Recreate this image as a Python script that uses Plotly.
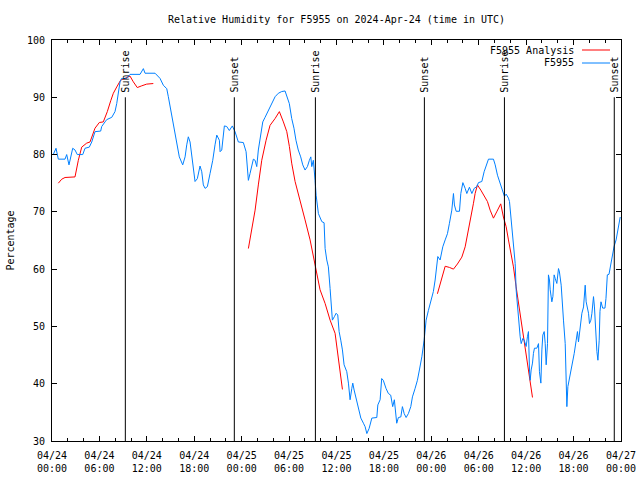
import pandas as pd
import plotly.graph_objects as go

BASE = pd.Timestamp("2024-04-24 00:00")

# Observed F5955 (hours since 2024-04-24 00:00 UTC, percent)
obs_hours = [0.16, 0.51, 0.80, 1.65, 1.86, 2.15, 2.62, 2.91, 3.20, 3.89, 4.18, 4.72, 5.03, 5.44, 6.16, 6.29,
             6.71, 6.92, 7.56, 7.97, 8.19, 8.39, 8.61, 8.82, 9.46, 9.87, 11.14, 11.56, 11.77, 13.04, 13.25,
             13.67, 14.09, 14.52, 14.72, 15.03, 15.35, 15.57, 15.86, 16.11, 16.54, 16.84, 17.05, 17.25, 17.47,
             17.81, 18.10, 18.39, 18.73, 18.95, 19.15, 19.37, 19.66, 20.00, 20.34, 20.63, 20.85, 21.18, 21.27,
             21.48, 21.61, 21.81, 22.11, 22.44, 22.82, 23.16, 23.58, 24.21, 24.56, 24.72, 24.85, 25.06, 25.28,
             25.48, 25.70, 25.91, 26.11, 26.42, 26.67, 26.96, 27.38, 27.81, 28.23, 28.64, 29.07, 29.49, 29.78,
             30.03, 30.33, 30.62, 30.87, 31.16, 31.47, 31.73, 32.02, 32.32, 32.57, 32.75, 32.87, 33.07, 33.29,
             33.42, 33.71, 34.14, 34.43, 34.56, 34.77, 34.97, 35.19, 35.32, 35.48, 35.73, 35.95, 36.16, 36.33,
             36.54, 36.75, 36.96, 37.30, 37.51, 37.72, 37.94, 38.06, 38.23, 38.48, 38.77, 39.08, 39.41, 39.62,
             39.84, 40.13, 40.47, 41.10, 41.23, 41.52, 41.72, 41.92, 42.26, 42.56, 42.86, 43.11, 43.32, 43.49,
             43.62, 43.83, 44.14, 44.34, 44.56, 44.81, 45.10, 45.40, 45.61, 45.95, 46.24, 46.49, 46.80, 47.09,
             47.34, 47.63, 47.94, 48.26, 48.48, 48.69, 48.82, 49.11, 49.45, 49.75, 50.04, 50.29, 50.59, 50.80,
             50.92, 51.14, 51.56, 51.73, 51.99, 52.28, 52.49, 52.82, 53.13, 53.42, 53.76, 53.96, 54.39, 54.68,
             55.02, 55.23, 55.86, 56.08, 56.37, 56.71, 57.05, 57.25, 57.47, 57.76, 57.89, 58.06, 58.27, 58.48,
             58.61, 58.73, 58.90, 59.03, 59.24, 59.37, 59.58, 59.75, 60.00, 60.16, 60.29, 60.42, 60.51, 60.63,
             60.80, 60.92, 61.05, 61.35, 61.56, 61.68, 61.86, 61.99, 62.11, 62.28, 62.41, 62.53, 62.70, 62.82,
             62.95, 63.04, 63.25, 63.38, 63.54, 63.67, 63.88, 64.09, 64.21, 64.43, 64.59, 64.72, 64.94, 65.06,
             65.15, 65.28, 65.44, 65.66, 65.86, 66.08, 66.33, 66.49, 66.62, 66.84, 67.05, 67.26, 67.47, 67.59,
             67.76, 67.89, 68.01, 68.19, 68.32, 68.52, 68.64, 68.77, 68.95, 69.08, 69.24, 69.34, 69.47, 69.68,
             69.97, 70.10, 70.27, 70.48, 70.70, 70.91, 71.13, 71.38, 71.55, 71.81, 71.90]
obs_values = [80.0, 81.1, 79.2, 79.2, 80.0, 78.2, 81.1, 80.8, 80.0, 80.0, 81.1, 81.3, 82.2, 84.0, 84.1, 84.9,
              85.7, 86.1, 86.5, 87.5, 88.9, 91.0, 92.7, 93.3, 93.3, 94.0, 94.0, 95.0, 94.2, 94.2, 93.9,
              93.3, 92.1, 91.5, 90.1, 87.8, 85.1, 83.1, 81.1, 79.6, 78.2, 79.6, 81.7, 83.1, 82.2,
              78.5, 75.3, 75.8, 78.0, 77.0, 74.7, 74.1, 74.4, 76.7, 79.0, 81.7, 83.4, 82.5, 80.5,
              80.8, 83.1, 85.0, 84.9, 84.2, 85.0, 84.0, 82.2, 82.1, 80.5, 77.9, 75.5, 76.7, 78.0,
              79.2, 79.0, 77.9, 80.8, 84.0, 85.7, 86.5, 87.6, 88.9, 90.1, 90.7, 91.0, 91.1, 90.1,
              88.9, 86.3, 84.6, 82.5, 80.8, 79.6, 78.2, 77.3, 77.9, 79.0, 79.6, 77.9, 79.0, 75.5,
              72.9, 69.7, 68.3, 68.1, 63.6, 61.6, 60.4, 56.6, 53.4, 51.1, 51.7, 52.3, 52.0, 49.1,
              47.6, 45.9, 43.3, 42.1, 40.1, 37.2, 39.2, 40.1, 38.9, 37.5, 35.4, 34.0, 33.1, 32.5,
              31.3, 32.2, 34.0, 34.1, 36.3, 37.2, 40.9, 40.6, 39.2, 38.3, 38.0, 36.0, 37.2, 34.5,
              33.1, 34.1, 34.2, 36.0, 34.8, 34.1, 34.8, 36.0, 37.7, 39.2, 40.6, 42.4, 44.7, 47.6,
              51.1, 52.8, 54.3, 56.1, 58.1, 61.3, 62.2, 61.6, 63.9, 65.1, 66.2, 68.0, 70.3, 73.2,
              71.2, 70.1, 70.1, 73.2, 75.1, 74.1, 73.2, 74.3, 73.2, 74.1, 74.4, 75.1, 75.3, 77.0,
              78.5, 79.2, 79.2, 78.2, 76.4, 75.0, 73.5, 72.7, 73.1, 72.4, 71.8, 69.1, 67.1, 63.6,
              61.0, 56.4, 53.4, 51.7, 48.2, 47.0, 47.9, 47.6, 46.5, 48.2, 49.1, 42.4, 40.6, 42.4,
              43.6, 45.3, 46.2, 46.2, 47.0, 42.1, 40.1, 45.9, 48.5, 49.1, 47.0, 43.3, 47.0, 59.0,
              58.1, 56.4, 54.3, 55.2, 59.0, 58.4, 57.5, 60.1, 59.5, 57.2, 53.2, 51.1, 47.0, 40.1,
              36.0, 39.5, 40.6, 41.8, 43.6, 45.3, 47.6, 49.1, 47.3, 49.9, 52.3, 53.4, 57.2, 54.3,
              53.4, 52.3, 50.5, 51.1, 52.3, 55.2, 53.4, 48.8, 45.6, 44.1, 47.6, 52.6, 54.3, 53.2,
              53.2, 54.9, 59.0, 59.1, 60.7, 61.9, 64.0, 65.1, 66.5, 68.9, 69.1]

# F5955 Analysis, three separate pieces
ana1_hours = [0.80, 1.23, 1.65, 2.91, 3.33, 3.76, 4.39, 4.81, 5.44, 5.99, 6.49, 7.00, 7.43, 7.76, 8.19,
              8.69, 9.24, 9.87, 10.29, 10.79, 11.35, 11.98, 12.82]
ana1_values = [75.0, 75.7, 76.0, 76.1, 79.0, 81.3, 82.0, 82.2, 84.6, 85.6, 85.7, 87.5, 89.4, 90.7, 91.8,
               93.0, 93.3, 93.7, 92.7, 91.7, 92.0, 92.3, 92.4]
ana2_hours = [24.85, 25.28, 25.70, 26.11, 26.54, 27.09, 27.59, 28.23, 28.77, 29.28, 29.71, 30.04, 30.33,
              30.76, 31.39, 32.02, 32.66, 33.07, 33.42, 33.92, 34.56, 35.19, 35.82, 36.16, 36.37, 36.54, 36.75]
ana2_values = [63.6, 66.8, 70.3, 74.7, 79.0, 82.5, 85.1, 86.3, 87.5, 85.7, 84.0, 81.4, 78.5,
               75.3, 72.1, 68.6, 65.1, 62.2, 59.5, 56.4, 54.0, 51.1, 48.8, 45.3, 42.4, 40.9, 39.0]
ana3_hours = [48.77, 49.33, 49.75, 50.29, 50.80, 51.30, 51.86, 52.28, 52.62, 53.00, 53.33, 53.54, 53.83,
              54.26, 54.68, 55.10, 55.44, 55.86, 56.27, 56.78, 57.12, 57.47, 57.76, 58.06, 58.39, 58.73,
              59.03, 59.33, 59.66, 60.00, 60.29, 60.51, 60.80]
ana3_values = [55.7, 58.7, 60.5, 60.3, 60.0, 60.9, 62.1, 63.9, 66.2, 68.9, 71.5, 73.2, 74.7,
               73.8, 72.8, 71.8, 70.3, 68.9, 70.0, 71.4, 69.1, 67.4, 65.1, 62.8, 60.4, 56.9,
               54.0, 51.1, 48.2, 45.3, 42.7, 40.6, 37.6]

sun_hours = [9.28, 23.07, 33.33, 47.12, 57.25, 71.15]
sun_labels = ["Sunrise", "Sunset", "Sunrise", "Sunset", "Sunrise", "Sunset"]

tick_hours = list(range(0, 73, 6))

BLUE = "#0080ff"
RED = "#ff0000"
FONT = "DejaVu Sans Mono"


def to_time(hours):
    return BASE + pd.to_timedelta(hours, unit="h")


fig = go.Figure()

red_x, red_y = [], []
for hs, vs in [(ana1_hours, ana1_values), (ana2_hours, ana2_values), (ana3_hours, ana3_values)]:
    red_x += list(to_time(hs)) + [None]
    red_y += list(vs) + [None]

fig.add_trace(go.Scatter(x=red_x, y=red_y, mode="lines", name="F5955 Analysis",
                         line=dict(color=RED, width=1), connectgaps=False, showlegend=False))
fig.add_trace(go.Scatter(x=to_time(obs_hours), y=obs_values, mode="lines", name="F5955",
                         line=dict(color=BLUE, width=1), showlegend=False))

for h, lab in zip(sun_hours, sun_labels):
    t = to_time(h)
    fig.add_shape(type="line", x0=t, x1=t, y0=30, y1=90, xref="x", yref="y",
                  line=dict(color="black", width=1))
    fig.add_annotation(x=t, y=90, xref="x", yref="y", text=lab, textangle=-90,
                       showarrow=False, xanchor="center", yanchor="bottom", yshift=3,
                       font=dict(family=FONT, size=10, color="black"))

# gnuplot-style legend: text then line sample
for i, (name, col) in enumerate([("F5955 Analysis", RED), ("F5955", BLUE)]):
    ypx = 50 + 13 * i
    yp = 1 - (ypx - 40) / 401
    fig.add_annotation(x=(576 - 52) / 569, y=yp, xref="paper", yref="paper", text=name,
                       showarrow=False, xanchor="right", yanchor="middle",
                       font=dict(family=FONT, size=10, color="black"))
    fig.add_shape(type="line", xref="paper", yref="paper",
                  x0=(582 - 52) / 569, x1=(610 - 52) / 569, y0=yp, y1=yp,
                  line=dict(color=col, width=1))

tickvals = list(to_time(tick_hours))
ticktext = [t.strftime("%m/%d<br>%H:%M") for t in tickvals]

fig.update_layout(
    width=640, height=480,
    margin=dict(l=52, r=19, t=40, b=39, autoexpand=False),
    paper_bgcolor="white", plot_bgcolor="white",
    font=dict(family=FONT, size=10, color="black"),
    title=dict(text="Relative Humidity for F5955 on 2024-Apr-24 (time in UTC)",
               x=0.5, xref="paper", xanchor="center", y=1 - 19 / 480, yanchor="middle",
               font=dict(family=FONT, size=10, color="black")),
    xaxis=dict(range=[to_time(0), to_time(72)], tickmode="array", tickvals=tickvals,
               ticktext=ticktext, ticks="inside", ticklen=5, tickcolor="black",
               showline=True, linecolor="black", linewidth=1, mirror="allticks",
               showgrid=False, zeroline=False, ticklabelstandoff=5, automargin=False,
               minor=dict(dtick=2 * 3600 * 1000, ticks="inside", ticklen=3, tickcolor="black",
                          showgrid=False),
               tickfont=dict(family=FONT, size=10, color="black")),
    yaxis=dict(range=[30, 100], dtick=10, tick0=30, ticks="inside", ticklen=5, tickcolor="black",
               showline=True, linecolor="black", linewidth=1, mirror="allticks",
               showgrid=False, zeroline=False, ticklabelstandoff=4, automargin=False,
               title=dict(text="Percentage", font=dict(family=FONT, size=10, color="black"),
                          standoff=10),
               tickfont=dict(family=FONT, size=10, color="black")),
)

fig.write_html("out.html", config={"displayModeBar": False},
               post_script="document.body.style.margin='0';")
